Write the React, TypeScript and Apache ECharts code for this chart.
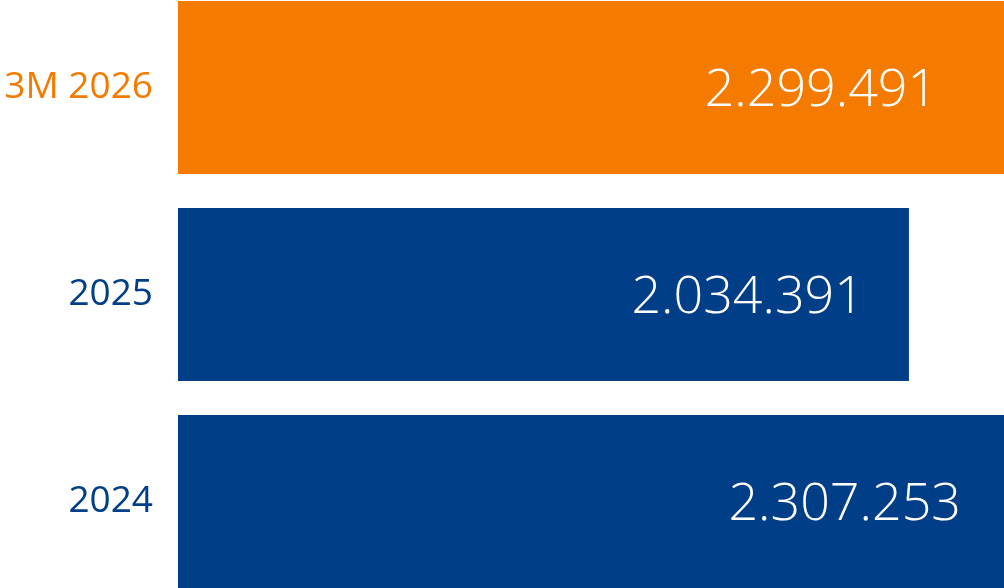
import React, { useEffect, useRef } from "react";
import * as echarts from "echarts";

const categories = ["2024", "2025", "3M 2026"];
const values = [2307253, 2034391, 2299491];
const barColors = ["#003E88", "#003E88", "#F57B00"];
const labelStyles = ["b", "b", "o"];
const labelDistances = [46, 45, 67];

function fmt(v: number): string {
  return String(v).replace(/\B(?=(\d{3})+(?!\d))/g, ".");
}

export default function App() {
  const ref = useRef<HTMLDivElement>(null);
  useEffect(() => {
    document.body.style.margin = "0";
    document.body.style.overflow = "hidden";
    const chart = echarts.init(ref.current!, undefined, { renderer: "svg" });
    chart.setOption({
      animation: false,
      grid: { left: 178, right: 3, top: 0, bottom: 0 },
      xAxis: {
        type: "value",
        min: 0,
        max: 2307253,
        show: false,
      },
      yAxis: {
        type: "category",
        data: categories,
        axisLine: { show: false },
        axisTick: { show: false },
        splitLine: { show: false },
        axisLabel: {
          margin: 25,
          fontFamily: "Open Sans",
          fontSize: 37,
          formatter: (v: string, i: number) => `{${labelStyles[i]}|${v}}`,
          rich: {
            b: { color: "#003E88", fontFamily: "Open Sans", fontSize: 37, padding: [0, 0, 8, 0] },
            o: { color: "#F57B00", fontFamily: "Open Sans", fontSize: 37, padding: [0, 0, 8, 0] },
          },
        },
      },
      series: [
        {
          type: "bar",
          barWidth: 173,
          data: values.map((v, i) => ({
            value: v,
            itemStyle: { color: barColors[i] },
            label: {
              show: true,
              position: "insideRight",
              distance: labelDistances[i],
              offset: [0, -2],
              formatter: (p: any) => fmt(p.value),
              color: "#ffffff",
              fontFamily: "Open Sans",
              fontWeight: 300,
              fontSize: 52,
            },
          })),
        },
      ],
    });
    return () => chart.dispose();
  }, []);
  return (
    <div style={{ position: "fixed", left: 0, top: 0, width: 1004, height: 588, overflow: "hidden" }}>
      <div ref={ref} style={{ position: "absolute", left: 0, top: -16, width: 1010, height: 621 }} />
    </div>
  );
}
